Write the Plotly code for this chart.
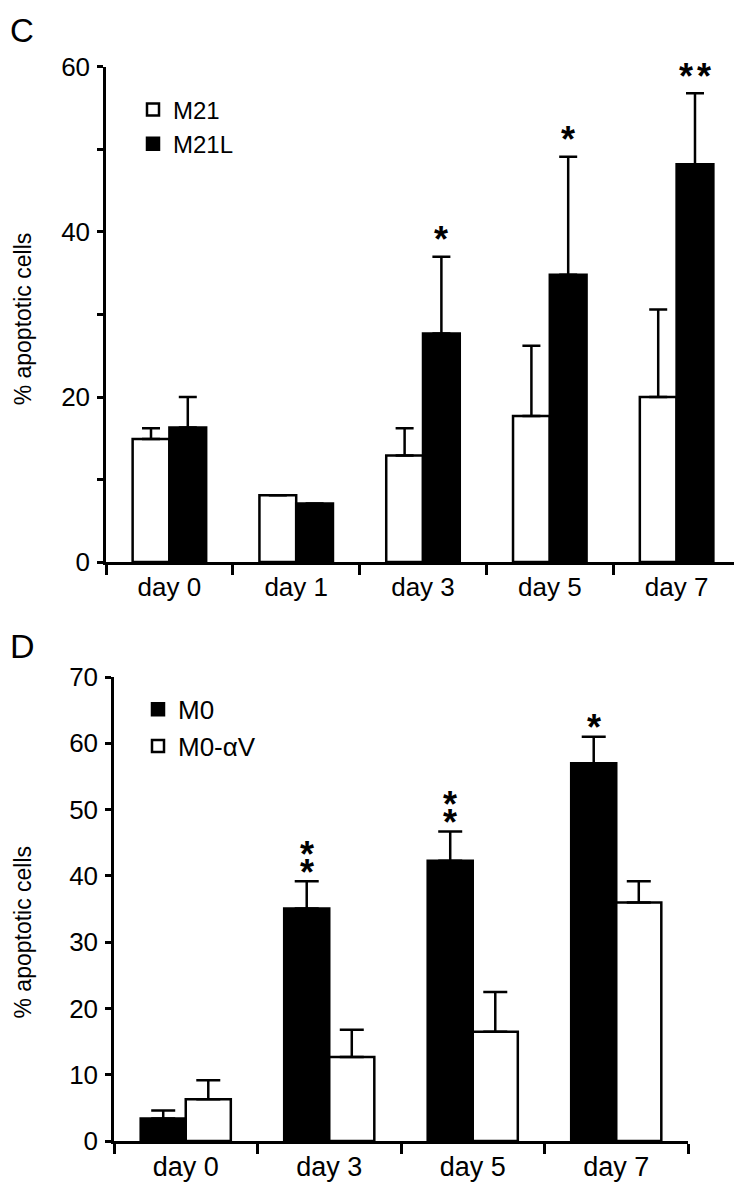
import plotly.graph_objects as go

# the page body keeps its default 8px margin, so the figure is 8px smaller
# and every reference pixel position is shifted by PAD
PAD = 8
W, H = 742 - PAD, 1199 - PAD

# Panel C: M21 vs M21L
days_c = ["day 0", "day 1", "day 3", "day 5", "day 7"]
m21 = [14.9, 8.1, 12.9, 17.7, 20.0]
m21_err = [1.3, 0, 3.3, 8.5, 10.6]
m21l = [16.3, 7.1, 27.7, 34.8, 48.2]
m21l_err = [3.7, 0, 9.3, 14.3, 8.6]
stars_c = [0, 0, 1, 1, 2]

# Panel D: M0 vs M0-alphaV
days_d = ["day 0", "day 3", "day 5", "day 7"]
m0 = [3.4, 35.1, 42.3, 57.0]
m0_err = [1.2, 4.1, 4.4, 4.0]
m0av = [6.3, 12.7, 16.5, 36.0]
m0av_err = [2.9, 4.1, 6.0, 3.2]
stars_d = [0, 2, 2, 1]

FONT = "Liberation Sans, Arial, sans-serif"
bar_line = dict(color="black", width=2.5)


def px_x(x):
    return (x - PAD) / W


def px_y(y):
    return 1 - (y - PAD) / H


def err(vals, cap):
    return dict(type="data", array=vals, arrayminus=[0] * len(vals), symmetric=False,
                color="black", thickness=2.5, width=cap)


fig = go.Figure()

# panel C bars
wc = 0.29
fig.add_trace(go.Bar(x=days_c, y=m21, width=wc, offset=-wc, name="M21",
                     marker=dict(color="white", line=bar_line), error_y=err(m21_err, 9),
                     xaxis="x", yaxis="y", legend="legend"))
fig.add_trace(go.Bar(x=days_c, y=m21l, width=wc, offset=0, name="M21L",
                     marker=dict(color="black", line=bar_line), error_y=err(m21l_err, 9),
                     xaxis="x", yaxis="y", legend="legend"))

# panel D bars
wd = 0.314
fig.add_trace(go.Bar(x=days_d, y=m0, width=wd, offset=-wd, name="M0",
                     marker=dict(color="black", line=bar_line), error_y=err(m0_err, 12),
                     xaxis="x2", yaxis="y2", legend="legend2"))
fig.add_trace(go.Bar(x=days_d, y=m0av, width=wd, offset=0, name="M0-\u03b1V",
                     marker=dict(color="white", line=bar_line), error_y=err(m0av_err, 12),
                     xaxis="x2", yaxis="y2", legend="legend2"))

star_font = dict(size=36)
annotations = []
# significance stars: side by side in C, stacked in D
for i, n in enumerate(stars_c):
    for k in range(n):
        annotations.append(dict(x=i + wc / 2, y=m21l[i] + m21l_err[i], xref="x", yref="y",
                                text="<b>*</b>", showarrow=False, yanchor="middle",
                                yshift=17, xshift=(k - (n - 1) / 2) * 18, font=star_font))
for i, n in enumerate(stars_d):
    for k in range(n):
        annotations.append(dict(x=i - wd / 2, y=m0[i] + m0_err[i], xref="x2", yref="y2",
                                text="<b>*</b>", showarrow=False, yanchor="middle",
                                yshift=9 + 18 * k, font=star_font))

# panel letters
annotations.append(dict(x=0, y=px_y(16), xref="paper", yref="paper", text="C",
                        showarrow=False, xanchor="left", yanchor="middle", font=dict(size=33)))
annotations.append(dict(x=0, y=px_y(647), xref="paper", yref="paper", text="D",
                        showarrow=False, xanchor="left", yanchor="middle", font=dict(size=34)))

# y axis titles, kept inside the left edge
for yc in (312, 941):
    annotations.append(dict(x=0, y=px_y(yc), xref="paper", yref="paper",
                            text="% apoptotic cells", textangle=-90, showarrow=False,
                            xanchor="left", yanchor="middle", font=dict(size=23)))

xcommon = dict(type="category", showline=True, linewidth=2.5, linecolor="black",
               ticks="outside", tickson="boundaries", ticklen=10, tickwidth=2.5,
               tickcolor="black", showgrid=False, zeroline=False,
               tickfont=dict(size=26), fixedrange=True)
ycommon = dict(showline=True, linewidth=2.5, linecolor="black", ticks="outside",
               ticklen=6, tickwidth=2.5, tickcolor="black", showgrid=False,
               zeroline=False, tickfont=dict(size=26), ticklabelstandoff=2)

fig.update_layout(
    width=W, height=H, autosize=False,
    margin=dict(l=0, r=0, t=0, b=0),
    paper_bgcolor="white", plot_bgcolor="white",
    font=dict(family=FONT, color="black"),
    barmode="overlay",
    showlegend=True,
    xaxis=dict(xcommon, domain=[px_x(106), px_x(740)], range=[-0.5, 4.5], anchor="y"),
    yaxis=dict(ycommon, domain=[px_y(561), px_y(53)], range=[0, 60], dtick=20, anchor="x",
               minor=dict(dtick=10, ticks="outside", ticklen=6, tickwidth=2.5,
                          tickcolor="black", showgrid=False)),
    xaxis2=dict(xcommon, domain=[px_x(114), px_x(688)], range=[-0.5, 3.5], anchor="y2",
                tickfont=dict(size=27)),
    yaxis2=dict(ycommon, domain=[px_y(1155), px_y(679)], range=[0, 70], dtick=10,
                anchor="x2"),
    legend=dict(x=px_x(133), y=px_y(74), xanchor="left", yanchor="top",
                font=dict(size=24), bgcolor="rgba(0,0,0,0)", tracegroupgap=0),
    legend2=dict(x=px_x(138), y=px_y(688), xanchor="left", yanchor="top",
                 font=dict(size=26), bgcolor="rgba(0,0,0,0)", tracegroupgap=0),
    annotations=annotations,
)

fig.write_html("out.html")
